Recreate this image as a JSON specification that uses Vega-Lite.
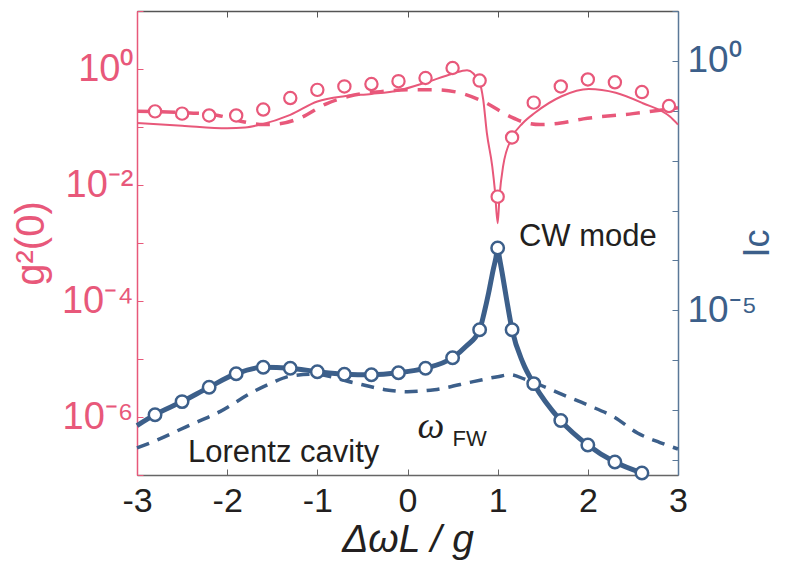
{
  "$schema": "https://vega.github.io/schema/vega-lite/v6.json",
  "width": 541,
  "height": 464,
  "autosize": "none",
  "padding": {"left": 137, "top": 11, "right": 119, "bottom": 102},
  "background": "white",
  "datasets": {
    "pink": [
      {"s": "exp", "x": -2.8, "v": 0.186},
      {"s": "exp", "x": -2.5, "v": 0.17},
      {"s": "exp", "x": -2.2, "v": 0.158},
      {"s": "exp", "x": -1.9, "v": 0.158},
      {"s": "exp", "x": -1.6, "v": 0.2},
      {"s": "exp", "x": -1.3, "v": 0.316},
      {"s": "exp", "x": -1.0, "v": 0.437},
      {"s": "exp", "x": -0.7, "v": 0.501},
      {"s": "exp", "x": -0.4, "v": 0.55},
      {"s": "exp", "x": -0.1, "v": 0.617},
      {"s": "exp", "x": 0.2, "v": 0.7},
      {"s": "exp", "x": 0.5, "v": 1.04},
      {"s": "exp", "x": 0.8, "v": 0.631},
      {"s": "exp", "x": 1.0, "v": 0.0063},
      {"s": "exp", "x": 1.16, "v": 0.066},
      {"s": "exp", "x": 1.4, "v": 0.263},
      {"s": "exp", "x": 1.7, "v": 0.5},
      {"s": "exp", "x": 2.0, "v": 0.66},
      {"s": "exp", "x": 2.3, "v": 0.59},
      {"s": "exp", "x": 2.6, "v": 0.4},
      {"s": "exp", "x": 2.9, "v": 0.23},
      {"s": "fit", "x": -3.0, "v": 0.117},
      {"s": "fit", "x": -2.5, "v": 0.105},
      {"s": "fit", "x": -2.0, "v": 0.095},
      {"s": "fit", "x": -1.8, "v": 0.098},
      {"s": "fit", "x": -1.63, "v": 0.11},
      {"s": "fit", "x": -1.3, "v": 0.162},
      {"s": "fit", "x": -1.0, "v": 0.275},
      {"s": "fit", "x": -0.7, "v": 0.339},
      {"s": "fit", "x": -0.4, "v": 0.372},
      {"s": "fit", "x": -0.1, "v": 0.427},
      {"s": "fit", "x": 0.21, "v": 0.589},
      {"s": "fit", "x": 0.5, "v": 0.83},
      {"s": "fit", "x": 0.66, "v": 0.955},
      {"s": "fit", "x": 0.8, "v": 0.575},
      {"s": "fit", "x": 0.84, "v": 0.295},
      {"s": "fit", "x": 0.88, "v": 0.079},
      {"s": "fit", "x": 0.94, "v": 0.021},
      {"s": "fit", "x": 0.97, "v": 0.0079},
      {"s": "fit", "x": 1.0, "v": 0.0022},
      {"s": "fit", "x": 1.02, "v": 0.0063},
      {"s": "fit", "x": 1.06, "v": 0.021},
      {"s": "fit", "x": 1.16, "v": 0.066},
      {"s": "fit", "x": 1.28, "v": 0.117},
      {"s": "fit", "x": 1.41, "v": 0.174},
      {"s": "fit", "x": 1.71, "v": 0.339},
      {"s": "fit", "x": 2.01, "v": 0.452},
      {"s": "fit", "x": 2.31, "v": 0.389},
      {"s": "fit", "x": 2.61, "v": 0.257},
      {"s": "fit", "x": 2.91, "v": 0.151},
      {"s": "fit", "x": 3.0, "v": 0.11},
      {"s": "dash", "x": -3.0, "v": 0.186},
      {"s": "dash", "x": -2.5, "v": 0.178},
      {"s": "dash", "x": -2.1, "v": 0.158},
      {"s": "dash", "x": -1.85, "v": 0.126},
      {"s": "dash", "x": -1.6, "v": 0.11},
      {"s": "dash", "x": -1.45, "v": 0.112},
      {"s": "dash", "x": -1.2, "v": 0.141},
      {"s": "dash", "x": -0.9, "v": 0.251},
      {"s": "dash", "x": -0.65, "v": 0.339},
      {"s": "dash", "x": -0.3, "v": 0.407},
      {"s": "dash", "x": 0.0, "v": 0.437},
      {"s": "dash", "x": 0.3, "v": 0.437},
      {"s": "dash", "x": 0.55, "v": 0.398},
      {"s": "dash", "x": 0.84, "v": 0.275},
      {"s": "dash", "x": 1.14, "v": 0.151},
      {"s": "dash", "x": 1.3, "v": 0.12},
      {"s": "dash", "x": 1.47, "v": 0.11},
      {"s": "dash", "x": 1.7, "v": 0.117},
      {"s": "dash", "x": 1.95, "v": 0.138},
      {"s": "dash", "x": 2.5, "v": 0.17},
      {"s": "dash", "x": 3.0, "v": 0.214},
      {"s": "note", "x": 1.236, "v": 0.00129, "t": "CW mode"}
    ],
    "blue": [
      {"s": "exp", "x": -2.8, "v": 8.1e-8},
      {"s": "exp", "x": -2.5, "v": 1.48e-7},
      {"s": "exp", "x": -2.2, "v": 2.88e-7},
      {"s": "exp", "x": -1.9, "v": 5.37e-7},
      {"s": "exp", "x": -1.6, "v": 7.24e-7},
      {"s": "exp", "x": -1.3, "v": 6.92e-7},
      {"s": "exp", "x": -1.0, "v": 5.89e-7},
      {"s": "exp", "x": -0.7, "v": 5.25e-7},
      {"s": "exp", "x": -0.4, "v": 5.13e-7},
      {"s": "exp", "x": -0.1, "v": 5.62e-7},
      {"s": "exp", "x": 0.2, "v": 6.92e-7},
      {"s": "exp", "x": 0.5, "v": 1.12e-6},
      {"s": "exp", "x": 0.8, "v": 4.07e-6},
      {"s": "exp", "x": 1.0, "v": 1.78e-4},
      {"s": "exp", "x": 1.16, "v": 4.07e-6},
      {"s": "exp", "x": 1.4, "v": 3.39e-7},
      {"s": "exp", "x": 1.7, "v": 6.17e-8},
      {"s": "exp", "x": 2.0, "v": 2.0e-8},
      {"s": "exp", "x": 2.3, "v": 9.1e-9},
      {"s": "exp", "x": 2.6, "v": 5.5e-9},
      {"s": "fit", "x": -3.0, "v": 4.9e-8},
      {"s": "fit", "x": -2.8, "v": 8.1e-8},
      {"s": "fit", "x": -2.5, "v": 1.48e-7},
      {"s": "fit", "x": -2.2, "v": 2.88e-7},
      {"s": "fit", "x": -1.9, "v": 5.37e-7},
      {"s": "fit", "x": -1.6, "v": 7.24e-7},
      {"s": "fit", "x": -1.3, "v": 6.92e-7},
      {"s": "fit", "x": -1.0, "v": 5.89e-7},
      {"s": "fit", "x": -0.7, "v": 5.25e-7},
      {"s": "fit", "x": -0.4, "v": 5.13e-7},
      {"s": "fit", "x": -0.1, "v": 5.62e-7},
      {"s": "fit", "x": 0.2, "v": 6.92e-7},
      {"s": "fit", "x": 0.5, "v": 1.12e-6},
      {"s": "fit", "x": 0.65, "v": 1.9e-6},
      {"s": "fit", "x": 0.8, "v": 4.07e-6},
      {"s": "fit", "x": 0.85, "v": 8.9e-6},
      {"s": "fit", "x": 0.9, "v": 2.24e-5},
      {"s": "fit", "x": 0.95, "v": 6.46e-5},
      {"s": "fit", "x": 0.98, "v": 1.12e-4},
      {"s": "fit", "x": 1.0, "v": 1.78e-4},
      {"s": "fit", "x": 1.02, "v": 1.12e-4},
      {"s": "fit", "x": 1.05, "v": 5.6e-5},
      {"s": "fit", "x": 1.1, "v": 1.62e-5},
      {"s": "fit", "x": 1.16, "v": 4.07e-6},
      {"s": "fit", "x": 1.28, "v": 8.9e-7},
      {"s": "fit", "x": 1.4, "v": 3.39e-7},
      {"s": "fit", "x": 1.7, "v": 6.17e-8},
      {"s": "fit", "x": 2.0, "v": 2.0e-8},
      {"s": "fit", "x": 2.3, "v": 9.1e-9},
      {"s": "fit", "x": 2.6, "v": 5.5e-9},
      {"s": "dash", "x": -3.0, "v": 1.74e-8},
      {"s": "dash", "x": -2.78, "v": 2.5e-8},
      {"s": "dash", "x": -2.45, "v": 4.68e-8},
      {"s": "dash", "x": -2.08, "v": 9.3e-8},
      {"s": "dash", "x": -1.71, "v": 2.34e-7},
      {"s": "dash", "x": -1.5, "v": 3.55e-7},
      {"s": "dash", "x": -1.3, "v": 4.8e-7},
      {"s": "dash", "x": -1.05, "v": 5.25e-7},
      {"s": "dash", "x": -0.6, "v": 3.55e-7},
      {"s": "dash", "x": -0.25, "v": 2.57e-7},
      {"s": "dash", "x": 0.0, "v": 2.34e-7},
      {"s": "dash", "x": 0.3, "v": 2.57e-7},
      {"s": "dash", "x": 0.73, "v": 3.72e-7},
      {"s": "dash", "x": 1.0, "v": 4.68e-7},
      {"s": "dash", "x": 1.14, "v": 5.13e-7},
      {"s": "dash", "x": 1.3, "v": 4.17e-7},
      {"s": "dash", "x": 1.54, "v": 2.82e-7},
      {"s": "dash", "x": 1.72, "v": 2.04e-7},
      {"s": "dash", "x": 2.0, "v": 1.26e-7},
      {"s": "dash", "x": 2.3, "v": 7.1e-8},
      {"s": "dash", "x": 2.55, "v": 3.47e-8},
      {"s": "dash", "x": 2.8, "v": 2.24e-8},
      {"s": "dash", "x": 3.0, "v": 1.66e-8},
      {"s": "note", "x": -2.434, "v": 1.38e-8, "t": "Lorentz cavity"},
      {"s": "omega", "x": 0.11, "v": 4.5e-8, "t": "ω"},
      {"s": "sub", "x": 0.5, "v": 2.66e-8, "t": "FW"}
    ]
  },
  "layer": [
    {
      "data": {"name": "pink"},
      "encoding": {
        "x": {
          "field": "x",
          "type": "quantitative",
          "scale": {"domain": [-3, 3], "nice": false, "zero": false},
          "axis": {
            "orient": "bottom",
            "title": "ΔωL / g",
            "values": [-3, -2, -1, 0, 1, 2, 3],
            "labelExpr": "'' + datum.value",
            "grid": false,
            "tickSize": -6,
            "tickColor": "#666666",
            "domainColor": "#666666",
            "domainWidth": 1.5,
            "labelFontSize": 34,
            "labelColor": "#231F20",
            "labelPadding": 15,
            "labelFlush": false,
            "titleFontSize": 39,
            "titleFontWeight": "normal",
            "titleFontStyle": "italic",
            "titleColor": "#231F20",
            "titlePadding": 2
          }
        },
        "y": {
          "field": "v",
          "type": "quantitative",
          "scale": {"type": "log", "domain": [1e-7, 10], "nice": false},
          "axis": {
            "orient": "left",
            "title": "g²(0)",
            "values": [1e-7, 1e-6, 1e-5, 1e-4, 1e-3, 1e-2, 1e-1, 1, 10],
            "labelExpr": "{'0': '10⁰', '-2': '10⁻²', '-4': '10⁻⁴', '-6': '10⁻⁶'}['' + round(log(datum.value) / LN10)] || ''",
            "grid": false,
            "tickSize": -6,
            "tickColor": "#E8587A",
            "domainColor": "#E8587A",
            "domainWidth": 1.5,
            "labelFontSize": 38,
            "labelColor": "#E8587A",
            "labelPadding": 10,
            "labelFlush": false,
            "titleFontSize": 40,
            "titleFontWeight": "normal",
            "titleColor": "#E8587A",
            "titlePadding": 10
          }
        }
      },
      "layer": [
        {
          "data": {"values": [{}]},
          "mark": {"type": "rule", "color": "#7F7F7F", "strokeWidth": 2.5, "strokeDash": [8, 6]},
          "encoding": {
            "x": {"datum": 1},
            "y": {"datum": 1e-7},
            "y2": {"datum": 10}
          }
        },
        {
          "transform": [{"filter": "datum.s == 'dash'"}],
          "mark": {"type": "line", "color": "#E8587A", "strokeWidth": 3.5, "strokeDash": [14, 10], "interpolate": "monotone"}
        },
        {
          "transform": [{"filter": "datum.s == 'fit'"}],
          "mark": {"type": "line", "color": "#E8587A", "strokeWidth": 2, "interpolate": "monotone"}
        },
        {
          "transform": [{"filter": "datum.s == 'exp'"}],
          "mark": {"type": "point", "shape": "circle", "filled": true, "fill": "white", "stroke": "#E8587A", "strokeWidth": 2.2, "size": 150, "opacity": 1}
        },
        {
          "transform": [{"filter": "datum.s == 'note'"}],
          "mark": {"type": "text", "align": "left", "baseline": "middle", "fontSize": 31, "fill": "#231F20"},
          "encoding": {"text": {"field": "t"}}
        }
      ]
    },
    {
      "data": {"name": "blue"},
      "encoding": {
        "x": {
          "field": "x",
          "type": "quantitative",
          "scale": {"domain": [-3, 3], "nice": false, "zero": false},
          "axis": {
            "orient": "top",
            "title": null,
            "values": [-3, -2, -1, 0, 1, 2, 3],
            "labels": false,
            "grid": false,
            "tickSize": -6,
            "tickColor": "#555555",
            "domainColor": "#555555",
            "domainWidth": 1.5
          }
        },
        "y": {
          "field": "v",
          "type": "quantitative",
          "scale": {"type": "log", "domain": [5e-9, 10], "nice": false},
          "axis": {
            "orient": "right",
            "title": "Ic",
            "titleAngle": -90,
            "values": [1e-8, 1e-7, 1e-6, 1e-5, 1e-4, 1e-3, 1e-2, 1e-1, 1, 10],
            "labelExpr": "{'0': '10⁰', '-5': '10⁻⁵'}['' + round(log(datum.value) / LN10)] || ''",
            "grid": false,
            "tickSize": -6,
            "tickColor": "#5A7898",
            "domainColor": "#5A7898",
            "domainWidth": 1.5,
            "labelFontSize": 37,
            "labelColor": "#3C5F8A",
            "labelPadding": 15,
            "labelFlush": false,
            "titleFontSize": 36,
            "titleFontWeight": "normal",
            "titleColor": "#3C5F8A",
            "titlePadding": 20
          }
        }
      },
      "layer": [
        {
          "transform": [{"filter": "datum.s == 'dash'"}],
          "mark": {"type": "line", "color": "#3C5F8A", "strokeWidth": 3.5, "strokeDash": [13, 9], "interpolate": "monotone"}
        },
        {
          "transform": [{"filter": "datum.s == 'fit'"}],
          "mark": {"type": "line", "color": "#3C5F8A", "strokeWidth": 5, "interpolate": "monotone"}
        },
        {
          "transform": [{"filter": "datum.s == 'exp'"}],
          "mark": {"type": "point", "shape": "circle", "filled": true, "fill": "white", "stroke": "#3C5F8A", "strokeWidth": 2.5, "size": 155, "opacity": 1}
        },
        {
          "transform": [{"filter": "datum.s == 'note'"}],
          "mark": {"type": "text", "align": "left", "baseline": "middle", "fontSize": 31, "fill": "#231F20"},
          "encoding": {"text": {"field": "t"}}
        },
        {
          "transform": [{"filter": "datum.s == 'omega'"}],
          "mark": {"type": "text", "align": "left", "baseline": "middle", "fontSize": 38, "font": "Liberation Serif", "fontStyle": "italic", "fill": "#231F20"},
          "encoding": {"text": {"field": "t"}}
        },
        {
          "transform": [{"filter": "datum.s == 'sub'"}],
          "mark": {"type": "text", "align": "left", "baseline": "middle", "fontSize": 22, "fill": "#231F20"},
          "encoding": {"text": {"field": "t"}}
        }
      ]
    }
  ],
  "resolve": {"scale": {"x": "independent", "y": "independent"}},
  "config": {
    "view": {"stroke": null},
    "font": "Liberation Sans",
    "axis": {"labelFont": "Liberation Sans", "titleFont": "Liberation Sans"}
  }
}
